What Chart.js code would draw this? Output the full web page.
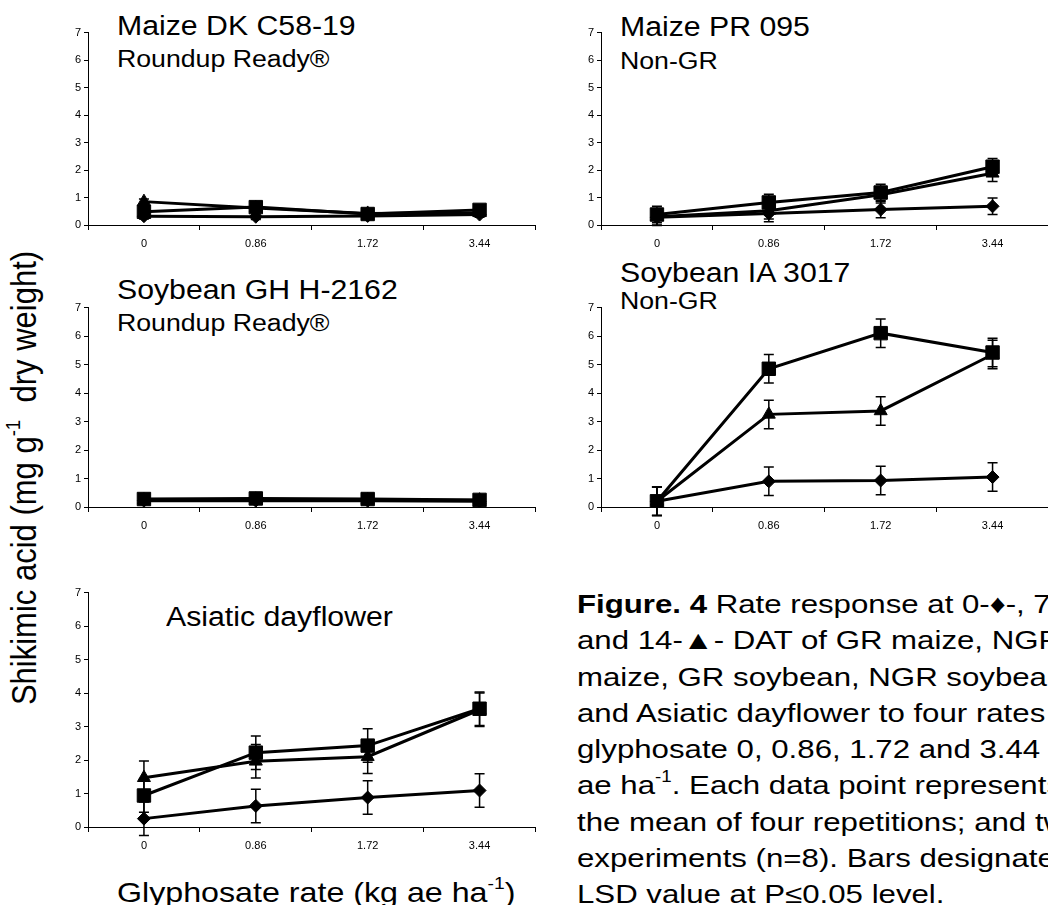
<!DOCTYPE html>
<html>
<head>
<meta charset="utf-8">
<script src="https://cdn.jsdelivr.net/npm/chart.js@4.4.1/dist/chart.umd.min.js"></script>
<style>
    html, body { margin: 0; padding: 0; background: #fff; }
    body { position: relative; width: 1048px; height: 905px; overflow: hidden; font-family: Arial, "Liberation Sans", sans-serif; color: #000; }
    canvas { position: absolute; }
    .t { position: absolute; white-space: nowrap; line-height: 1; transform-origin: left top; }
    .big { font-size: 27px; transform: scaleX(1.12); }
    .sub { font-size: 23px; transform: scaleX(1.16); }
    sup { font-size: 0.6em; vertical-align: 0.75em; line-height: 0; }
    #ytitle { position: absolute; left: 24px; top: 478px; font-size: 31px; white-space: nowrap; line-height: 1;
              transform: translate(-50%, -50%) scaleX(1.13) rotate(-90deg); }
    #xtitle { left: 117px; top: 879px; font-size: 28px; transform: scaleX(1.15); }
    #caption { position: absolute; left: 577px; top: 586px; font-size: 26px; line-height: 36.3px; white-space: nowrap;
               transform-origin: left top; transform: scaleX(1.2); }
</style>
</head>
<body>

<div class="t big" style="left:117px; top:13px;">Maize DK C58-19</div>
<div class="t sub" style="left:117px; top:48px;">Roundup Ready®</div>
<div class="t big" style="left:620px; top:14px;">Maize PR 095</div>
<div class="t sub" style="left:620px; top:50px;">Non-GR</div>
<div class="t big" style="left:117px; top:277px;">Soybean GH H-2162</div>
<div class="t sub" style="left:117px; top:312px;">Roundup Ready®</div>
<div class="t big" style="left:620px; top:260px;">Soybean IA 3017</div>
<div class="t sub" style="left:620px; top:290px;">Non-GR</div>
<div class="t big" style="left:166px; top:604px;">Asiatic dayflower</div>

<div id="ytitle">Shikimic acid (mg g<sup>-1</sup>&nbsp; dry weight)</div>
<div class="t" id="xtitle">Glyphosate rate (kg ae ha<sup>-1</sup>)</div>

<div id="caption"><b>Figure. 4</b> Rate response at 0-♦-, 7-■-<br>and 14-▲- DAT of GR maize, NGR<br>maize, GR soybean, NGR soybean<br>and Asiatic dayflower to four rates of<br>glyphosate 0, 0.86, 1.72 and 3.44 kg<br>ae ha<sup>-1</sup>. Each data point represents<br>the mean of four repetitions; and two<br>experiments (n=8). Bars designate<br>LSD value at P≤0.05 level.</div>

<canvas id="maizeGr" width="492" height="233" style="left:54px; top:22px;"></canvas>
<canvas id="maizeNgr" width="492" height="233" style="left:567px; top:22px;"></canvas>
<canvas id="soyGr" width="492" height="240" style="left:54px; top:297px;"></canvas>
<canvas id="soyNgr" width="492" height="240" style="left:567px; top:297px;"></canvas>
<canvas id="dayflower" width="492" height="275" style="left:54px; top:582px;"></canvas>

<script>
// glyphosate rates (kg ae/ha)
var rates = ['0', '0.86', '1.72', '3.44'];

// Maize DK C58-19, Roundup Ready
var maizeGrDay0 = [0.32, 0.30, 0.33, 0.38];
var maizeGrDay7 = [0.48, 0.65, 0.40, 0.55];
var maizeGrDay14 = [0.85, 0.62, 0.42, 0.45];
var maizeGrLsd = [0.10, 0.10, 0.10, 0.10];

// Maize PR 095, non-GR
var maizeNgrDay0 = [0.28, 0.42, 0.56, 0.68];
var maizeNgrDay7 = [0.38, 0.82, 1.18, 2.12];
var maizeNgrDay14 = [0.30, 0.52, 1.10, 1.88];
var maizeNgrLsd = [0.30, 0.30, 0.30, 0.30];

// Soybean GH H-2162, Roundup Ready
var soyGrDay0 = [0.22, 0.22, 0.22, 0.20];
var soyGrDay7 = [0.28, 0.30, 0.28, 0.25];
var soyGrDay14 = [0.25, 0.27, 0.25, 0.24];
var soyGrLsd = [0.08, 0.08, 0.08, 0.08];

// Soybean IA 3017, non-GR
var soyNgrDay0 = [0.20, 0.90, 0.93, 1.05];
var soyNgrDay7 = [0.20, 4.85, 6.10, 5.42];
var soyNgrDay14 = [0.20, 3.25, 3.37, 5.35];
var soyNgrLsd = [0.50, 0.50, 0.50, 0.50];

// Asiatic dayflower
var dayflowerDay0 = [0.25, 0.63, 0.88, 1.09];
var dayflowerDay7 = [0.94, 2.22, 2.43, 3.53];
var dayflowerDay14 = [1.47, 1.96, 2.10, 3.50];
var dayflowerLsd = [0.50, 0.50, 0.50, 0.50];

// LSD bars, drawn under the markers
var lsdBars = {
    id: 'lsdBars',
    beforeDatasetsDraw: function (chart) {
        var ctx = chart.ctx;
        var yScale = chart.scales.y;
        ctx.save();
        ctx.strokeStyle = '#000';
        ctx.lineWidth = 1.5;
        chart.data.datasets.forEach(function (ds, i) {
            var meta = chart.getDatasetMeta(i);
            meta.data.forEach(function (pt, j) {
                var top = yScale.getPixelForValue(ds.data[j] + ds.lsd[j]);
                var bottom = yScale.getPixelForValue(ds.data[j] - ds.lsd[j]);
                ctx.beginPath();
                ctx.moveTo(pt.x, top);
                ctx.lineTo(pt.x, bottom);
                ctx.moveTo(pt.x - 5, top);
                ctx.lineTo(pt.x + 5, top);
                ctx.moveTo(pt.x - 5, bottom);
                ctx.lineTo(pt.x + 5, bottom);
                ctx.stroke();
            });
        });
        ctx.restore();
    }
};

function series(data, lsd, style, radius) {
    return {
        data: data,
        lsd: lsd,
        borderColor: '#000',
        backgroundColor: '#000',
        borderWidth: 3,
        pointStyle: style,
        pointRadius: radius,
        pointBackgroundColor: '#000',
        pointBorderColor: '#000',
        pointBorderWidth: 1,
        tension: 0
    };
}

function drawPanel(id, day0, day7, day14, lsd) {
    var ctx = document.getElementById(id).getContext('2d');
    new Chart(ctx, {
        type: 'line',
        data: {
            labels: rates,
            datasets: [
                series(day14, lsd, 'triangle', 7.5),
                series(day7, lsd, 'rect', 9.5),
                series(day0, lsd, 'rectRot', 6.5)
            ]
        },
        options: {
            responsive: false,
            animation: false,
            devicePixelRatio: 1,
            layout: { padding: { top: 10, right: 6, left: 0, bottom: 0 } },
            plugins: {
                legend: { display: false },
                tooltip: { enabled: false }
            },
            scales: {
                x: {
                    offset: true,
                    grid: { offset: true, drawOnChartArea: false, tickLength: 5, color: '#000' },
                    border: { color: '#000', width: 1 },
                    ticks: { color: '#000', padding: 7, font: { family: 'Arial', size: 11 } },
                    afterFit: function (scale) { scale.height = 30; }
                },
                y: {
                    min: 0,
                    max: 7,
                    ticks: { stepSize: 1, color: '#000', padding: 3, font: { family: 'Arial', size: 11 } },
                    grid: { drawOnChartArea: false, tickLength: 4, color: '#000' },
                    border: { color: '#000', width: 1 },
                    afterFit: function (scale) { scale.width = 34; }
                }
            }
        },
        plugins: [lsdBars]
    });
}

drawPanel('maizeGr', maizeGrDay0, maizeGrDay7, maizeGrDay14, maizeGrLsd);
drawPanel('maizeNgr', maizeNgrDay0, maizeNgrDay7, maizeNgrDay14, maizeNgrLsd);
drawPanel('soyGr', soyGrDay0, soyGrDay7, soyGrDay14, soyGrLsd);
drawPanel('soyNgr', soyNgrDay0, soyNgrDay7, soyNgrDay14, soyNgrLsd);
drawPanel('dayflower', dayflowerDay0, dayflowerDay7, dayflowerDay14, dayflowerLsd);
</script>
</body>
</html>
